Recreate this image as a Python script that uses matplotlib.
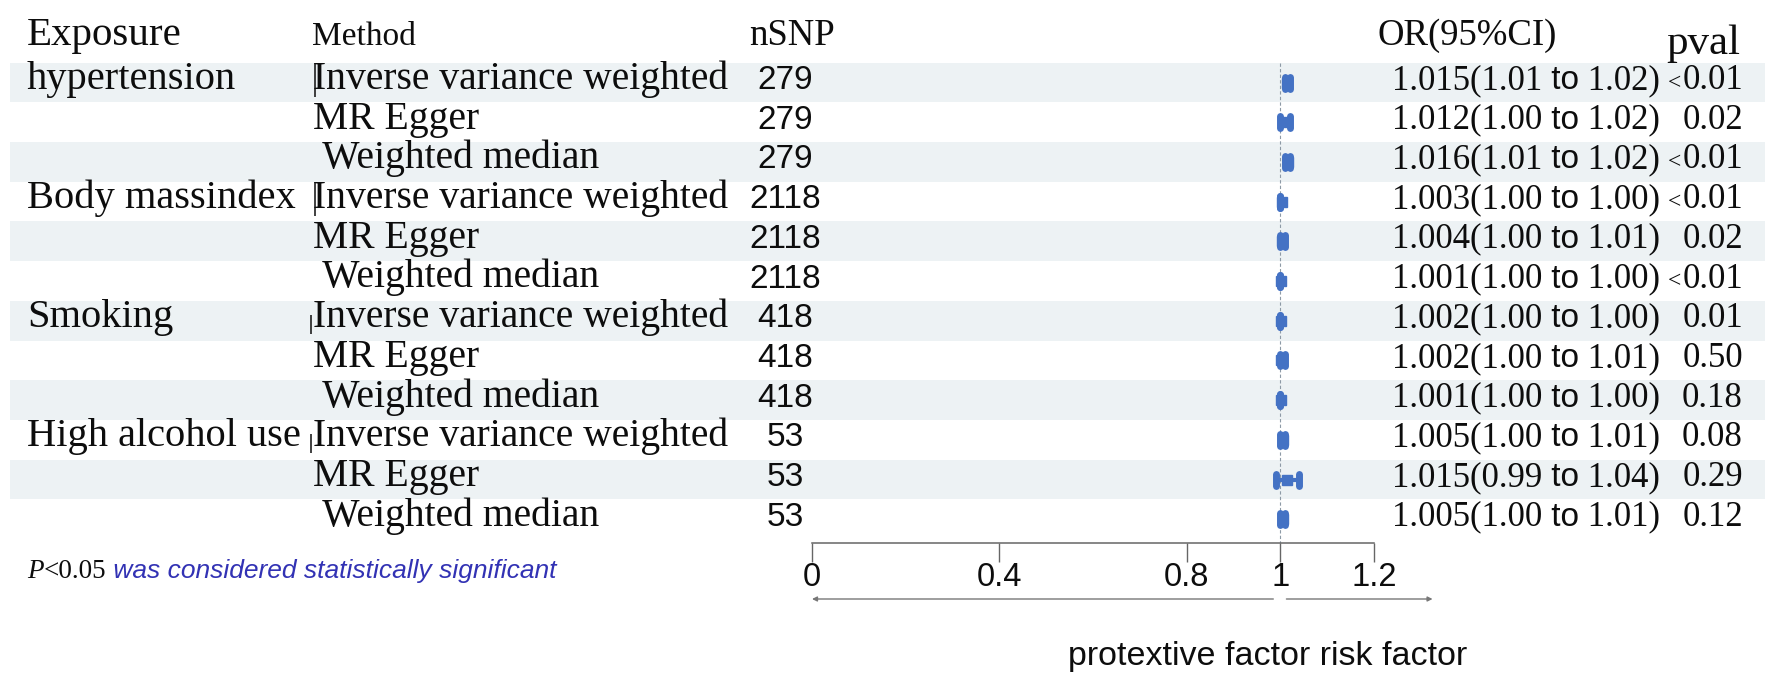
import matplotlib
matplotlib.use("Agg")
import matplotlib.pyplot as plt

# ---------------- data ----------------
exposures = ["hypertension", "", "", "Body massindex", "", "", "Smoking", "", "",
             "High alcohol use", "", ""]
methods = ["Inverse variance weighted", "MR Egger", " Weighted median"] * 4
nsnp = ["279", "279", "279", "2118", "2118", "2118", "418", "418", "418", "53", "53", "53"]
or_vals = [1.015, 1.012, 1.016, 1.003, 1.004, 1.001, 1.002, 1.002, 1.001, 1.005, 1.015, 1.005]
ci_lo = [1.01, 1.00, 1.01, 1.00, 1.00, 1.00, 1.00, 1.00, 1.00, 1.00, 0.99, 1.00]
ci_hi = [1.02, 1.02, 1.02, 1.00, 1.01, 1.00, 1.00, 1.01, 1.00, 1.01, 1.04, 1.01]
pvals = ["<0.01", "0.02", "<0.01", "<0.01", "0.02", "<0.01", "0.01", "0.50", "0.18",
         "0.08", "0.29", "0.12"]
xticks = [0, 0.4, 0.8, 1, 1.2]
xtick_labels = ["0", "0.4", "0.8", "1", "1.2"]
headers = ["Exposure", "Method", "nSNP", "OR(95%CI)", "pval"]

# ---------------- layout ----------------
W, H = 1781, 690
SERIF = "Liberation Serif"
SANS = "Liberation Sans"
BLUE = "#4472C4"
BAND = "#edf2f4"
INK = "#0d0d0d"

fig = plt.figure(figsize=(W / 100, H / 100), dpi=100)
ax = fig.add_axes([0, 0, 1, 1])
ax.set_xlim(0, W)
ax.set_ylim(H, 0)
ax.axis("off")

ROW0, STEP = 82.5, 39.7
n = len(methods)
rows = [ROW0 + STEP * i for i in range(n)]
BASE = 6.5  # baseline offset from band centre

# bands
for i, y in enumerate(rows):
    if i % 2 == 0:
        ax.axhspan(y - STEP / 2, y + STEP / 2, xmin=10 / W, xmax=1765 / W,
                   color=BAND, lw=0, zorder=0)

renderer = fig.canvas.get_renderer()


def chain(x, y, pieces):
    for s, kw in pieces:
        t = ax.text(x, y, s, ha="left", va="baseline", **kw)
        bb = t.get_window_extent(renderer)
        x = ax.transData.inverted().transform((bb.x1, bb.y0))[0]
    return x


# headers
ax.text(27, 45, headers[0], family=SERIF, fontsize=29.5, va="baseline", color=INK)
ax.text(312, 45, headers[1], family=SERIF, fontsize=24, va="baseline", color=INK)
ax.text(792, 45, headers[2], family=SERIF, fontsize=26.5, va="baseline", ha="center", color=INK)
ax.text(1378, 45, headers[3], family=SERIF, fontsize=26.5, va="baseline", color=INK)
ax.text(1740, 54, headers[4], family=SERIF, fontsize=31, va="baseline", ha="right", color=INK)

for i, y in enumerate(rows):
    yb = y + BASE
    if exposures[i]:
        ax.text(27, yb, exposures[i], family=SERIF, fontsize=29.2, va="baseline", color=INK)
    ax.text(313, yb, methods[i], family=SERIF, fontsize=28.5, va="baseline", color=INK)
    ax.text(785, yb, nsnp[i], family=SANS, fontsize=24, va="baseline", ha="center", color=INK)
    chain(1392, yb, [
        (f"{or_vals[i]:.3f}({ci_lo[i]:.2f}", dict(family=SERIF, fontsize=25, color=INK)),
        (" to", dict(family=SANS, fontsize=24, color=INK)),
        (f" {ci_hi[i]:.2f})", dict(family=SERIF, fontsize=25, color=INK)),
    ])
    p = pvals[i]
    num = p.lstrip("<")
    t = ax.text(1743, yb, num, family=SERIF, fontsize=25, va="baseline", ha="right", color=INK)
    if p.startswith("<"):
        bb = t.get_window_extent(renderer)
        x0 = ax.transData.inverted().transform((bb.x0, bb.y0))[0]
        ax.text(x0 - 1, yb, "<", family=SERIF, fontsize=17, va="baseline", ha="right", color=INK)

# small cursor-like strokes in front of some method labels (as in the source image)
for i, y in enumerate(rows):
    if exposures[i]:
        yb = y + BASE
        if i < 6:
            ax.plot([315.5, 315.5], [yb - 26, yb + 8], color=INK, lw=1.1, solid_capstyle="butt")
        else:
            ax.plot([311, 311], [yb - 12, yb + 7], color=INK, lw=1.1, solid_capstyle="butt")

# footnote
chain(27, 578, [
    ("P", dict(family=SERIF, fontsize=19.5, style="italic", color=INK)),
    ("<0.05", dict(family=SERIF, fontsize=19.5, color=INK)),
    (" was considered statistically significant",
     dict(family=SANS, fontsize=19, style="italic", color="#3232b4")),
])

# bottom label
ax.text(1268, 657, "protextive factor risk factor", family=SANS, fontsize=24.5,
        ha="center", va="center", color=INK)

# ---------------- forest ----------------
X0, X1 = 812, 1374
fx = fig.add_axes([X0 / W, 0, (X1 - X0) / W, 1])
fx.set_xlim(0, 1.2)
fx.set_ylim(H, 0)
fx.patch.set_alpha(0)
for s in ["top", "left", "right"]:
    fx.spines[s].set_visible(False)
AXIS_Y = 543
fx.spines["bottom"].set_position(("data", AXIS_Y))
fx.spines["bottom"].set_bounds(0, 1.2)
fx.spines["bottom"].set_color("#666")
fx.spines["bottom"].set_linewidth(1.1)
fx.set_yticks([])
fx.set_xticks(xticks)
fx.set_xticklabels(xtick_labels, family=SANS, fontsize=23.5, color=INK)
fx.tick_params(axis="x", direction="out", length=14, width=1.0, color="#666", pad=0)

# reference line
fx.vlines(1, rows[0] - STEP / 2, AXIS_Y, colors="#8d9aa6", linestyles=(0, (3, 2)), lw=0.8, zorder=1)

for i, y in enumerate(rows):
    fx.hlines(y, ci_lo[i], ci_hi[i], colors=BLUE, lw=3, zorder=3)
    caps = fx.vlines([ci_lo[i], ci_hi[i]], y - 6, y + 6, colors=BLUE, lw=5, zorder=3)
    caps.set_capstyle("round")
    fx.plot([or_vals[i]], [y], marker="s", ms=7, color=BLUE, mec=BLUE, zorder=4)

# arrows below axis
ARR_Y = 599
fx.annotate("", xy=(0, ARR_Y), xytext=(0.985, ARR_Y),
            arrowprops=dict(arrowstyle="-|>", color="#777", lw=1, mutation_scale=7,
                            shrinkA=0, shrinkB=0), annotation_clip=False)
fx.annotate("", xy=(1.325, ARR_Y), xytext=(1.013, ARR_Y),
            arrowprops=dict(arrowstyle="-|>", color="#777", lw=1, mutation_scale=7,
                            shrinkA=0, shrinkB=0), annotation_clip=False)

fig.savefig("out.png", dpi=100, facecolor="white")
